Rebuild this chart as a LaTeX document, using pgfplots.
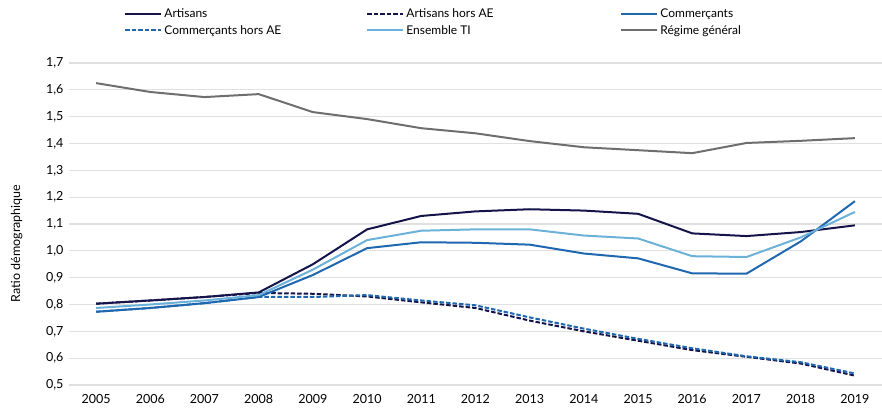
\documentclass[border=0pt]{standalone}
\usepackage{pgfplots}
\pgfplotsset{compat=1.18}
\usepackage{pgfplotstable}
\usepackage{fontspec}
\setmainfont{Lato}

\definecolor{artisans}{HTML}{14144B}
\definecolor{commercants}{HTML}{1F68B0}
\definecolor{ensemble}{HTML}{6BB1D8}
\definecolor{regime}{HTML}{6E6E6E}
\definecolor{grille}{HTML}{E0E0E0}

% annee, artisans, artisans hors AE, commercants, commercants hors AE, ensemble TI, regime general
\pgfplotstableread{
an   art    artae  com    comae  ens    reg
2005 0.803  0.803  0.773  0.773  0.787  1.625
2006 0.815  0.815  0.787  0.787  0.800  1.592
2007 0.828  0.828  0.805  0.805  0.815  1.573
2008 0.845  0.843  0.828  0.828  0.835  1.584
2009 0.950  0.840  0.910  0.828  0.930  1.517
2010 1.080  0.830  1.010  0.835  1.040  1.491
2011 1.130  0.808  1.032  0.815  1.075  1.457
2012 1.147  0.787  1.030  0.797  1.080  1.438
2013 1.155  0.740  1.023  0.752  1.080  1.409
2014 1.150  0.700  0.990  0.710  1.057  1.386
2015 1.138  0.665  0.972  0.672  1.046  1.375
2016 1.065  0.630  0.916  0.637  0.980  1.364
2017 1.055  0.605  0.915  0.607  0.977  1.402
2018 1.070  0.580  1.035  0.585  1.050  1.410
2019 1.095  0.535  1.185  0.543  1.145  1.420
}\ratio

\begin{document}
\begin{tikzpicture}[x=1pt,y=1pt]
\useasboundingbox (0,0) rectangle (882,413);
\begin{axis}[
    at={(69pt,28pt)}, anchor=south west,
    scale only axis,
    width=813pt, height=322pt,
    xmin=2004.5, xmax=2019.5,
    ymin=0.5, ymax=1.7,
    xtick={2005,...,2019},
    ytick={0.5,0.6,...,1.71},
    xticklabel style={/pgf/number format/1000 sep={}},
    yticklabel style={/pgf/number format/.cd, use comma, fixed, fixed zerofill, precision=1},
    /pgf/number format/assume math mode=true,
    ticklabel style={font=\fontsize{12.5}{14}\selectfont},
    xticklabel shift=6pt,
    yticklabel shift=2pt,
    axis line style={draw=none},
    major tick length=0pt,
    ymajorgrids,
    grid style={grille, line width=1.2pt},
    ylabel={Ratio démographique},
    ylabel style={font=\fontsize{12.5}{14}\selectfont, at={(axis description cs:-0.053,0.44)}},
    legend columns=3,
    legend style={draw=none, fill=none, at={(axis description cs:0.068,1.175)}, anchor=north west,
        font=\fontsize{12}{13}\selectfont, row sep=2pt, inner sep=0pt},
    legend cell align=left,
    legend image code/.code={\draw[#1, line width=2pt] (0pt,0pt) -- (36pt,0pt);},
    every axis plot/.append style={line width=2pt},
]
\addplot[artisans, no marks] table[x=an, y=art] {\ratio};
\addlegendentry{\makebox[200pt][l]{Artisans}}
\addplot[artisans, no marks, dash pattern=on 4.5pt off 2pt] table[x=an, y=artae] {\ratio};
\addlegendentry{\makebox[212pt][l]{Artisans hors AE}}
\addplot[commercants, no marks] table[x=an, y=com] {\ratio};
\addlegendentry{Commerçants}
\addplot[commercants, no marks, dash pattern=on 4.5pt off 2pt] table[x=an, y=comae] {\ratio};
\addlegendentry{\makebox[200pt][l]{Commerçants hors AE}}
\addplot[ensemble, no marks] table[x=an, y=ens] {\ratio};
\addlegendentry{\makebox[212pt][l]{Ensemble TI}}
\addplot[regime, no marks] table[x=an, y=reg] {\ratio};
\addlegendentry{Régime général}
\end{axis}
\end{tikzpicture}
\end{document}
